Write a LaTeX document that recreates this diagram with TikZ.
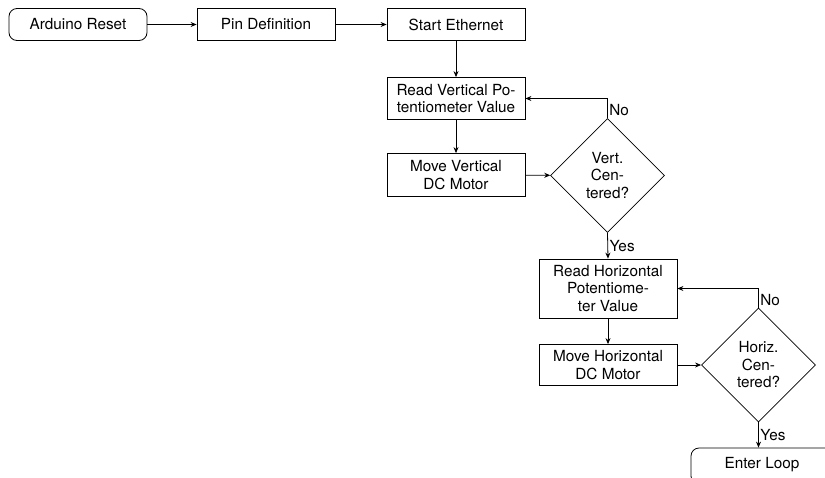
\documentclass[tikz,border=0pt]{standalone}
\usepackage{fontspec}
\setmainfont{TeX Gyre Heros}
\usetikzlibrary{shapes.geometric,arrows.meta}
\begin{document}
\begin{tikzpicture}[x=1pt,y=-1pt,
  font=\fontsize{15.3}{17.5}\selectfont,
  box/.style={draw,line width=0.8pt,align=center,inner sep=0pt,minimum width=138pt},
  term/.style={box,rounded corners=8pt},
  dec/.style={draw,line width=0.8pt,diamond,aspect=1,inner sep=0pt,
    minimum width=114pt,minimum height=114pt,align=center},
  link/.style={draw,line width=0.8pt,-{Stealth[length=6pt,width=5pt]}},
  lbl/.style={anchor=west,inner sep=1.5pt}]
\useasboundingbox (0,0) rectangle (825,477);
\clip (0,0) rectangle (825,477);

% start-up sequence
\node[term,minimum height=32pt] (reset) at (78,24.5) {Arduino Reset};
\node[box,minimum height=32pt] (pin) at (266,24.5) {Pin Definition};
\node[box,minimum height=32pt] (eth) at (456,24.5) {Start Ethernet};

% vertical axis centering
\node[box,minimum height=42pt] (readv) at (456,98.5) {Read Vertical Po-\\tentiometer Value};
\node[box,minimum height=43pt] (movev) at (456,175) {Move Vertical\\DC Motor};
\node[dec] (vdec) at (607.5,175.5) {Vert.\\Cen-\\tered?};

% horizontal axis centering
\node[box,minimum height=59pt] (readh) at (608,288.5) {Read Horizontal\\Potentiome-\\ter Value};
\node[box,minimum height=41pt] (moveh) at (608,365) {Move Horizontal\\DC Motor};
\node[dec] (hdec) at (758.5,365) {Horiz.\\Cen-\\tered?};

% final state, running past the lower right edge
\node[term,minimum height=36pt,minimum width=142pt,text depth=7pt] (loop) at (762,466) {Enter Loop};

% connectors
\draw[link] (reset) -- (pin);
\draw[link] (pin) -- (eth);
\draw[link] (eth) -- (readv);
\draw[link] (readv) -- (movev);
\draw[link] (movev) -- (vdec);
\draw[link] (vdec.north) |- node[lbl,pos=0.2]{No} (readv.east);
\draw[link] (vdec.south) -- node[lbl]{Yes} (readh.north);
\draw[link] (readh) -- (moveh);
\draw[link] (moveh) -- (hdec);
\draw[link] (hdec.north) |- node[lbl,pos=0.2]{No} (readh.east);
\draw[link] (hdec.south) -- node[lbl]{Yes} (hdec.south |- loop.north);
\end{tikzpicture}
\end{document}
